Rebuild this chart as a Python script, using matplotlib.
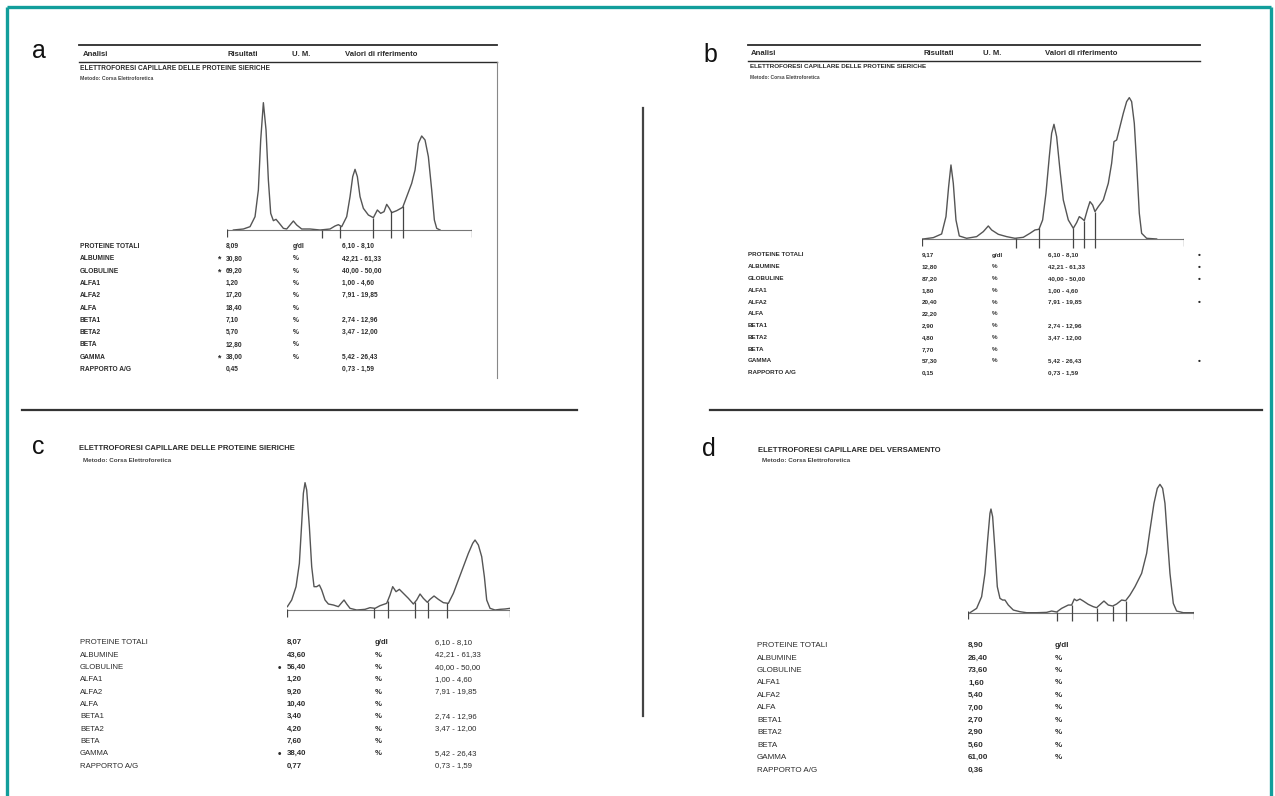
import matplotlib.pyplot as plt
import numpy as np

plt.rcParams['font.family'] = ['Liberation Sans', 'DejaVu Sans']

# ---- report table, shared rows ----
rows = ['PROTEINE TOTALI', 'ALBUMINE', 'GLOBULINE', 'ALFA1', 'ALFA2', 'ALFA',
        'BETA1', 'BETA2', 'BETA', 'GAMMA', 'RAPPORTO A/G']
units = ['g/dl', '%', '%', '%', '%', '%', '%', '%', '%', '%', '']
ref_ranges = ['6,10 - 8,10', '42,21 - 61,33', '40,00 - 50,00', '1,00 - 4,60',
              '7,91 - 19,85', '', '2,74 - 12,96', '3,47 - 12,00', '',
              '5,42 - 26,43', '0,73 - 1,59']

vals_a = ['8,09', '30,80', '69,20', '1,20', '17,20', '18,40', '7,10', '5,70', '12,80', '38,00', '0,45']
flag_a = [0, 1, 1, 0, 0, 0, 0, 0, 0, 1, 0]
vals_b = ['9,17', '12,80', '87,20', '1,80', '20,40', '22,20', '2,90', '4,80', '7,70', '57,30', '0,15']
flag_b = [1, 1, 1, 0, 1, 0, 0, 0, 0, 1, 0]
vals_c = ['8,07', '43,60', '56,40', '1,20', '9,20', '10,40', '3,40', '4,20', '7,60', '38,40', '0,77']
flag_c = [0, 0, 1, 0, 0, 0, 0, 0, 0, 1, 0]
vals_d = ['8,90', '26,40', '73,60', '1,60', '5,40', '7,00', '2,70', '2,90', '5,60', '61,00', '0,36']

# ---- electropherograms (migration, signal) ----
mig_a = [20, 50, 70, 85, 95, 102, 110, 118, 125, 132, 140, 148, 158, 170, 180, 190, 200, 210, 225, 250,
         280, 310, 325, 335, 345, 360, 370, 378, 385, 392, 400, 410, 425, 440, 452, 462, 472, 480, 488, 495,
         510, 528, 540, 555, 565, 575, 585, 595, 605, 615, 623, 630, 640]
sig_a = [0, 3, 10, 40, 120, 270, 382, 300, 150, 50, 28, 32, 20, 5, 3, 15, 27, 15, 3, 3,
         0, 3, 12, 16, 10, 40, 100, 160, 182, 160, 100, 65, 45, 37, 60, 50, 55, 77, 65, 52,
         58, 68, 100, 140, 180, 260, 282, 270, 220, 120, 30, 5, 0]
cuts_a = [285, 340, 440, 493, 530]
len_a = 735

mig_b = [3, 33, 58, 71, 79, 86, 93, 101, 111, 133, 163, 183, 198, 208, 228, 253, 278, 303, 323, 338,
         350, 361, 371, 381, 388, 395, 403, 413, 423, 438, 453, 463, 471, 478, 486, 495, 503, 511, 518, 528,
         543, 558, 568, 575, 583, 593, 603, 613, 621, 628, 636, 643, 651, 658, 673, 703]
sig_b = [1, 5, 16, 68, 158, 223, 168, 58, 10, 3, 8, 23, 40, 28, 15, 8, 3, 6, 18, 28,
         30, 58, 138, 248, 318, 345, 308, 208, 118, 58, 33, 50, 68, 63, 56, 88, 113, 103, 83, 98,
         118, 168, 228, 293, 298, 338, 378, 413, 425, 413, 348, 228, 78, 18, 3, 1]
cuts_b = [281, 351, 453, 486, 518]
len_b = 786

mig_c = [2, 15, 28, 38, 45, 50, 55, 60, 68, 75, 82, 90, 98, 105, 115, 125, 140, 155, 165, 172,
         180, 190, 210, 235, 250, 265, 280, 300, 310, 318, 328, 338, 350, 365, 380, 390, 400, 410, 422, 430,
         442, 455, 470, 485, 500, 515, 530, 545, 558, 565, 575, 585, 593, 600, 610, 625, 640, 655, 670]
sig_c = [10, 30, 70, 140, 260, 350, 382, 360, 250, 130, 70, 70, 75, 60, 30, 18, 15, 10, 22, 30,
         18, 5, 0, 2, 7, 5, 13, 20, 45, 70, 55, 62, 50, 35, 18, 30, 48, 35, 23, 32,
         42, 32, 22, 20, 50, 90, 130, 170, 200, 210, 195, 160, 100, 30, 5, 0, 2, 3, 5]
cuts_c = [263, 303, 385, 423, 482]
len_c = 670

mig_d = [5, 25, 40, 50, 58, 65, 68, 73, 80, 87, 95, 103, 110, 120, 135, 155, 175, 205, 235, 250,
         265, 280, 300, 310, 318, 325, 335, 345, 360, 375, 385, 397, 407, 420, 433, 445, 460, 472, 485, 500,
         520, 535, 545, 557, 567, 575, 583, 590, 597, 605, 615, 625, 645, 675]
sig_d = [0, 13, 48, 118, 218, 298, 311, 288, 188, 78, 43, 38, 38, 23, 8, 3, 0, 0, 1, 5,
         2, 13, 23, 23, 41, 36, 41, 35, 25, 18, 15, 26, 35, 23, 20, 26, 38, 36, 53, 78,
         118, 178, 248, 328, 373, 385, 373, 328, 228, 118, 28, 5, 0, 0]
cuts_d = [265, 310, 385, 433, 472]
len_d = 677

W, H = 1275, 796
ink = '#2b2b2b'
fig = plt.figure(figsize=(W / 100, H / 100), dpi=100)
fig.patch.set_facecolor('white')

# background axes in pixel units for the page layout
bg = fig.add_axes([0, 0, 1, 1])
bg.set_xlim(0, W)
bg.set_ylim(H, 0)
bg.axis('off')

# teal frame
teal = '#129e9b'
bg.plot([7, 7], [H, 7], color=teal, lw=2.4, solid_capstyle='butt')
bg.plot([7, 1271], [7, 7], color=teal, lw=2.4, solid_capstyle='butt')
bg.plot([1271, 1271], [7, H], color=teal, lw=2.4, solid_capstyle='butt')

# dividers
bg.plot([643, 643], [108, 716], color='#444444', lw=1.6)
bg.plot([22, 577], [410, 410], color='#333333', lw=1.6)
bg.plot([710, 1262], [410, 410], color='#333333', lw=1.6)

# panel letters
for lab, x, y in [('a', 32, 58), ('b', 703, 62), ('c', 32, 454), ('d', 702, 456)]:
    bg.text(x, y, lab, fontsize=18, color='#111111', va='baseline', ha='left')


def header(x0, x1, y_top, y_bot, cols):
    bg.plot([x0, x1], [y_top, y_top], color=ink, lw=1.3)
    bg.plot([x0, x1], [y_bot, y_bot], color=ink, lw=1.0)
    for txt, x in cols:
        bg.text(x, (y_top + y_bot) / 2 + 0.5, txt, fontsize=5.6, fontweight='bold',
                color=ink, va='center', ha='left')


def titles(x, y, title, fs=4.8, fs2=3.7, dx=0):
    bg.text(x, y, title, fontsize=fs, fontweight='bold', color=ink, va='center', ha='left')
    bg.text(x + dx, y + 11, 'Metodo: Corsa Elettroforetica', fontsize=fs2,
            fontweight='bold', color='#444444', va='center', ha='left')


header(79, 497, 45, 62, [('Analisi', 83), ('Risultati', 227), ('U. M.', 292),
                         ('Valori di riferimento', 345)])
bg.plot([497, 497], [62, 378], color='#888888', lw=0.8)
titles(80, 68, 'ELETTROFORESI CAPILLARE DELLE PROTEINE SIERICHE')

header(748, 1200, 45, 61, [('Analisi', 751), ('Risultati', 923), ('U. M.', 983),
                           ('Valori di riferimento', 1045)])
titles(750, 66.5, 'ELETTROFORESI CAPILLARE DELLE PROTEINE SIERICHE', fs=4.5, fs2=3.5)

titles(79, 449, 'ELETTROFORESI CAPILLARE DELLE PROTEINE SIERICHE', fs=5.5, fs2=4.5, dx=4)
titles(758, 450, 'ELETTROFORESI CAPILLARE DEL VERSAMENTO', fs=5.5, fs2=4.5, dx=4)


def table(y0, dy, xs, vals, flags=None, flag_x=None, flag_mark='*', fs=4.2,
          weight='bold', show_ranges=True):
    xl, xv, xu, xr = xs
    for i, name in enumerate(rows):
        y = y0 + i * dy
        kw = dict(fontsize=fs, color=ink, va='center', ha='left')
        bg.text(xl, y, name, fontweight=weight, **kw)
        bg.text(xv, y, vals[i], fontweight='bold', **kw)
        if units[i]:
            bg.text(xu, y, units[i], fontweight='bold', **kw)
        if show_ranges and ref_ranges[i]:
            bg.text(xr, y, ref_ranges[i], fontweight=weight, **kw)
        if flags is not None and flags[i]:
            bg.text(flag_x, y + 0.5, flag_mark, fontsize=fs + 1.5, fontweight='bold',
                    color=ink, va='center', ha='center')


table(246.7, 12.27, (80, 226, 293, 342), vals_a, flag_a, 219, '*', fs=4.8)
table(255.0, 11.77, (748, 922, 992, 1048), vals_b, flag_b, 1199, '\u2022', fs=4.5)
table(642.7, 12.33, (80, 287, 375, 435), vals_c, flag_c, 280, '\u2022', fs=5.6, weight='normal')
table(645.7, 12.43, (757, 968, 1055, 0), vals_d, fs=5.8, weight='normal', show_ranges=False)


def trace(left_px, base_px, length, mig, sig, cuts):
    top_units, bot_units = 450, -36
    h_px = (top_units - bot_units) / 3
    ax = fig.add_axes([left_px / W, (H - base_px + bot_units / 3) / H,
                       length / 3 / W, h_px / H])
    ax.set_xlim(0, length)
    ax.set_ylim(bot_units, top_units)
    ax.axis('off')
    ax.plot(mig, sig, color='#555555', lw=1.0)
    ax.plot([0, length], [0, 0], color='#777777', lw=0.8)
    ax.vlines([0, length], -20, 4, color='#444444', lw=0.9)
    tops = np.interp(cuts, mig, sig)
    ax.vlines(cuts, -25, tops, color='#444444', lw=0.9)


trace(226.7, 230.0, len_a, mig_a, sig_a, cuts_a)
trace(922.3, 239.3, len_b, mig_b, sig_b, cuts_b)
trace(286.7, 610.0, len_c, mig_c, sig_c, cuts_c)
trace(968.3, 612.7, len_d, mig_d, sig_d, cuts_d)

fig.savefig('out.png', dpi=100)
